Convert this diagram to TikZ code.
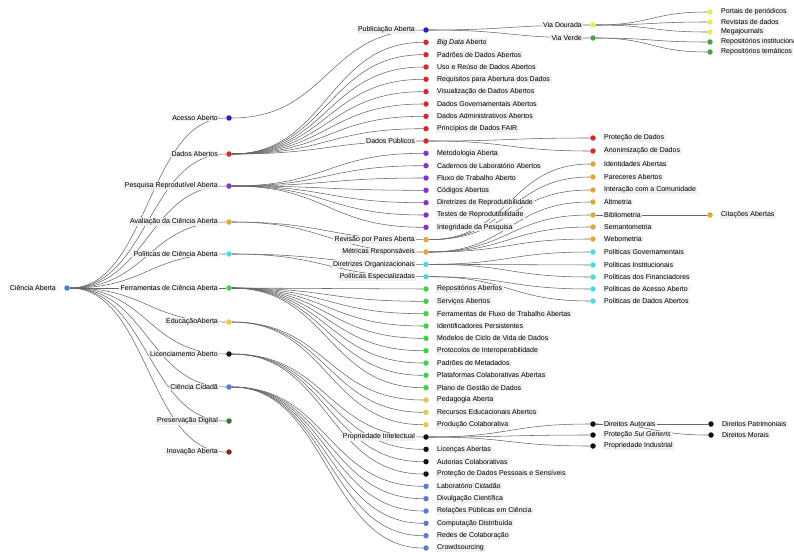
\documentclass[tikz,border=0pt]{standalone}
\usepackage{fontspec}
\setmainfont{Liberation Sans}
\usetikzlibrary{calc}
\pgfdeclarelayer{bg}
\pgfsetlayers{bg,main}
\definecolor{cRoot}{HTML}{4F7FC2}
\definecolor{cAcesso}{HTML}{2424B4}
\definecolor{cDados}{HTML}{D42A2A}
\definecolor{cPesq}{HTML}{8A32C8}
\definecolor{cAval}{HTML}{E3A43A}
\definecolor{cPol}{HTML}{4ED8E4}
\definecolor{cFerr}{HTML}{3CD24A}
\definecolor{cEdu}{HTML}{E6C850}
\definecolor{cLic}{HTML}{111111}
\definecolor{cCid}{HTML}{5B7CC8}
\definecolor{cPres}{HTML}{2E7D32}
\definecolor{cInov}{HTML}{8B2020}
\definecolor{cDour}{HTML}{E8E85A}
\definecolor{cVerde}{HTML}{4CA04C}
\begin{document}
\begin{tikzpicture}[x=1pt, y=-1pt, font=\fontsize{7}{8}\selectfont, label distance=6.5pt,
    dot/.style={circle, fill=#1, inner sep=0pt, minimum size=5.5pt},
    lbl/.style={fill=black!6, inner xsep=1.5pt, inner ysep=0.8pt},
    txtR/.style={label={[lbl]right:#1}},
    txtL/.style={label={[lbl]left:#1}},
    conn/.style={draw=black!60, line width=0.55pt, to path={let \p1=(\tikztostart), \p2=(\tikztotarget) in
        .. controls ({(\x1+\x2)/2},\y1) and ({(\x1+\x2)/2},\y2) .. (\tikztotarget)}}]
    \useasboundingbox (0,0) rectangle (794,551);

    % Root
    \node[dot=cRoot, txtL={Ciência Aberta}] (ciencia) at (67,288) {};

    % Main areas
    \node[dot=cAcesso, txtL={Acesso Aberto}] (acesso) at (229,118) {};
    \node[dot=cDados, txtL={Dados Abertos}] (dados) at (229,154) {};
    \node[dot=cPesq, txtL={Pesquisa Reprodutível Aberta}] (pesquisa) at (229,186) {};
    \node[dot=cAval, txtL={Avaliação da Ciência Aberta}] (avaliacao) at (229,222) {};
    \node[dot=cPol, txtL={Políticas de Ciência Aberta}] (politicas) at (229,254) {};
    \node[dot=cFerr, txtL={Ferramentas de Ciência Aberta}] (ferramentas) at (229,288) {};
    \node[dot=cEdu, txtL={EducaçãoAberta}] (educacao) at (229,322) {};
    \node[dot=cLic, txtL={Licenciamento Aberto}] (licenciamento) at (229,354) {};
    \node[dot=cCid, txtL={Ciência Cidadã}] (cidada) at (229,387) {};
    \node[dot=cPres, txtL={Preservação Digital}] (preservacao) at (229,421) {};
    \node[dot=cInov, txtL={Inovação Aberta}] (inovacao) at (229,452) {};

    % Topics
    \node[dot=cAcesso, txtL={Publicação Aberta}] (publicacao) at (426,30) {};
    \node[dot=cDados, txtR={\emph{Big Data} Aberto}] (bigdata) at (426,42.3) {};
    \node[dot=cDados, txtR={Padrões de Dados Abertos}] (padroes) at (426,54.7) {};
    \node[dot=cDados, txtR={Uso e Reúso de Dados Abertos}] (reuso) at (426,67) {};
    \node[dot=cDados, txtR={Requisitos para Abertura dos Dados}] (requisitos) at (426,79.3) {};
    \node[dot=cDados, txtR={Visualização de Dados Abertos}] (visualizacao) at (426,91.7) {};
    \node[dot=cDados, txtR={Dados Governamentais Abertos}] (governamentais) at (426,104) {};
    \node[dot=cDados, txtR={Dados Administrativos Abertos}] (administrativos) at (426,116.3) {};
    \node[dot=cDados, txtR={Princípios de Dados FAIR}] (fair) at (426,128.7) {};
    \node[dot=cDados, txtL={Dados Públicos}] (publicos) at (426,141) {};
    \node[dot=cPesq, txtR={Metodologia Aberta}] (metodologia) at (426,153.3) {};
    \node[dot=cPesq, txtR={Cadernos de Laboratório Abertos}] (cadernos) at (426,165.7) {};
    \node[dot=cPesq, txtR={Fluxo de Trabalho Aberto}] (fluxo) at (426,178) {};
    \node[dot=cPesq, txtR={Códigos Abertos}] (codigos) at (426,190.3) {};
    \node[dot=cPesq, txtR={Diretrizes de Reprodutibilidade}] (diretrizes) at (426,202.7) {};
    \node[dot=cPesq, txtR={Testes de Reprodutibilidade}] (testes) at (426,215) {};
    \node[dot=cPesq, txtR={Integridade da Pesquisa}] (integridade) at (426,227.3) {};
    \node[dot=cAval, txtL={Revisão por Pares Aberta}] (revisao) at (426,239.7) {};
    \node[dot=cAval, txtL={Métricas Responsáveis}] (metricas) at (426,252) {};
    \node[dot=cPol, txtL={Diretrizes Organizacionais}] (organizacionais) at (426,264.3) {};
    \node[dot=cPol, txtL={Políticas Especializadas}] (especializadas) at (426,276.7) {};
    \node[dot=cFerr, txtR={Repositórios Abertos}] (repositorios) at (426,289) {};
    \node[dot=cFerr, txtR={Serviços Abertos}] (servicos) at (426,301.3) {};
    \node[dot=cFerr, txtR={Ferramentas de Fluxo de Trabalho Abertas}] (ferrfluxo) at (426,313.7) {};
    \node[dot=cFerr, txtR={Identificadores Persistentes}] (identificadores) at (426,326) {};
    \node[dot=cFerr, txtR={Modelos de Ciclo de Vida de Dados}] (modelos) at (426,338.3) {};
    \node[dot=cFerr, txtR={Protocolos de Interoperabilidade}] (protocolos) at (426,350.7) {};
    \node[dot=cFerr, txtR={Padrões de Metadados}] (metadados) at (426,363) {};
    \node[dot=cFerr, txtR={Plataformas Colaborativas Abertas}] (plataformas) at (426,375.3) {};
    \node[dot=cFerr, txtR={Plano de Gestão de Dados}] (plano) at (426,387.7) {};
    \node[dot=cEdu, txtR={Pedagogia Aberta}] (pedagogia) at (426,400) {};
    \node[dot=cEdu, txtR={Recursos Educacionais Abertos}] (recursos) at (426,412.3) {};
    \node[dot=cEdu, txtR={Produção Colaborativa}] (producao) at (426,424.7) {};
    \node[dot=cLic, txtL={Propriedade Intelectual}] (propriedade) at (426,437) {};
    \node[dot=cLic, txtR={Licenças Abertas}] (licencas) at (426,449.3) {};
    \node[dot=cLic, txtR={Autorias Colaborativas}] (autorias) at (426,461.7) {};
    \node[dot=cLic, txtR={Proteção de Dados Pessoais e Sensíveis}] (pessoais) at (426,474) {};
    \node[dot=cCid, txtR={Laboratório Cidadão}] (laboratorio) at (426,486.3) {};
    \node[dot=cCid, txtR={Divulgação Científica}] (divulgacao) at (426,498.7) {};
    \node[dot=cCid, txtR={Relações Públicas em Ciência}] (relacoes) at (426,511) {};
    \node[dot=cCid, txtR={Computação Distribuída}] (computacao) at (426,523.3) {};
    \node[dot=cCid, txtR={Redes de Colaboração}] (redes) at (426,535.7) {};
    \node[dot=cCid, txtR={Crowdsourcing}] (crowdsourcing) at (426,548) {};

    % Subtopics
    \node[dot=cDour, txtL={Via Dourada}] (dourada) at (593,25) {};
    \node[dot=cVerde, txtL={Via Verde}] (verde) at (593,38) {};
    \node[dot=cDados, txtR={Proteção de Dados}] (protecao) at (593,138) {};
    \node[dot=cDados, txtR={Anonimização de Dados}] (anonimizacao) at (593,151) {};
    \node[dot=cAval, txtR={Identidades Abertas}] (identidades) at (593,164) {};
    \node[dot=cAval, txtR={Pareceres Abertos}] (pareceres) at (593,177) {};
    \node[dot=cAval, txtR={Interação com a Comunidade}] (interacao) at (593,190) {};
    \node[dot=cAval, txtR={Altmetria}] (altmetria) at (593,202) {};
    \node[dot=cAval, txtR={Bibliometria}] (bibliometria) at (593,215) {};
    \node[dot=cAval, txtR={Semantometria}] (semantometria) at (593,227) {};
    \node[dot=cAval, txtR={Webometria}] (webometria) at (593,239) {};
    \node[dot=cPol, txtR={Políticas Governamentais}] (polgov) at (593,252) {};
    \node[dot=cPol, txtR={Políticas Institucionais}] (polinst) at (593,265) {};
    \node[dot=cPol, txtR={Políticas dos Financiadores}] (polfin) at (593,277) {};
    \node[dot=cPol, txtR={Políticas de Acesso Aberto}] (polacesso) at (593,289) {};
    \node[dot=cPol, txtR={Políticas de Dados Abertos}] (poldados) at (593,301) {};
    \node[dot=cLic, txtR={Direitos Autorais}] (autorais) at (593,424) {};
    \node[dot=cLic, txtR={Proteção \emph{Sui Generis}}] (suigeneris) at (593,435) {};
    \node[dot=cLic, txtR={Propriedade Industrial}] (industrial) at (593,446) {};

    % Leaves
    \node[dot=cDour, txtR={Portais de periódicos}] (portais) at (710,12) {};
    \node[dot=cDour, txtR={Revistas de dados}] (revistas) at (710,22) {};
    \node[dot=cDour, txtR={Megajournals}] (megajournals) at (710,32) {};
    \node[dot=cVerde, txtR={Repositórios institucionais}] (repinst) at (710,42) {};
    \node[dot=cVerde, txtR={Repositórios temáticos}] (reptem) at (710,52) {};
    \node[dot=cAval, txtR={Citações Abertas}] (citacoes) at (710,215) {};
    \node[dot=cLic, txtR={Direitos Patrimoniais}] (patrimoniais) at (711,424) {};
    \node[dot=cLic, txtR={Direitos Morais}] (morais) at (711,435) {};

    \begin{pgfonlayer}{bg}
    % Root to main areas
    \draw[conn] (ciencia) to (acesso);
    \draw[conn] (ciencia) to (dados);
    \draw[conn] (ciencia) to (pesquisa);
    \draw[conn] (ciencia) to (avaliacao);
    \draw[conn] (ciencia) to (politicas);
    \draw[conn] (ciencia) to (ferramentas);
    \draw[conn] (ciencia) to (educacao);
    \draw[conn] (ciencia) to (licenciamento);
    \draw[conn] (ciencia) to (cidada);
    \draw[conn] (ciencia) to (preservacao);
    \draw[conn] (ciencia) to (inovacao);

    % Main areas to topics
    \draw[conn] (acesso) to (publicacao);
    \draw[conn] (dados) to (bigdata);
    \draw[conn] (dados) to (padroes);
    \draw[conn] (dados) to (reuso);
    \draw[conn] (dados) to (requisitos);
    \draw[conn] (dados) to (visualizacao);
    \draw[conn] (dados) to (governamentais);
    \draw[conn] (dados) to (administrativos);
    \draw[conn] (dados) to (fair);
    \draw[conn] (dados) to (publicos);
    \draw[conn] (pesquisa) to (metodologia);
    \draw[conn] (pesquisa) to (cadernos);
    \draw[conn] (pesquisa) to (fluxo);
    \draw[conn] (pesquisa) to (codigos);
    \draw[conn] (pesquisa) to (diretrizes);
    \draw[conn] (pesquisa) to (testes);
    \draw[conn] (pesquisa) to (integridade);
    \draw[conn] (avaliacao) to (revisao);
    \draw[conn] (avaliacao) to (metricas);
    \draw[conn] (politicas) to (organizacionais);
    \draw[conn] (politicas) to (especializadas);
    \draw[conn] (ferramentas) to (repositorios);
    \draw[conn] (ferramentas) to (servicos);
    \draw[conn] (ferramentas) to (ferrfluxo);
    \draw[conn] (ferramentas) to (identificadores);
    \draw[conn] (ferramentas) to (modelos);
    \draw[conn] (ferramentas) to (protocolos);
    \draw[conn] (ferramentas) to (metadados);
    \draw[conn] (ferramentas) to (plataformas);
    \draw[conn] (ferramentas) to (plano);
    \draw[conn] (educacao) to (pedagogia);
    \draw[conn] (educacao) to (recursos);
    \draw[conn] (educacao) to (producao);
    \draw[conn] (licenciamento) to (propriedade);
    \draw[conn] (licenciamento) to (licencas);
    \draw[conn] (licenciamento) to (autorias);
    \draw[conn] (licenciamento) to (pessoais);
    \draw[conn] (cidada) to (laboratorio);
    \draw[conn] (cidada) to (divulgacao);
    \draw[conn] (cidada) to (relacoes);
    \draw[conn] (cidada) to (computacao);
    \draw[conn] (cidada) to (redes);
    \draw[conn] (cidada) to (crowdsourcing);

    % Topics to subtopics
    \draw[conn] (publicacao) to (dourada);
    \draw[conn] (publicacao) to (verde);
    \draw[conn] (publicos) to (protecao);
    \draw[conn] (publicos) to (anonimizacao);
    \draw[conn] (revisao) to (identidades);
    \draw[conn] (revisao) to (pareceres);
    \draw[conn] (revisao) to (interacao);
    \draw[conn] (metricas) to (altmetria);
    \draw[conn] (metricas) to (bibliometria);
    \draw[conn] (metricas) to (semantometria);
    \draw[conn] (metricas) to (webometria);
    \draw[conn] (organizacionais) to (polgov);
    \draw[conn] (organizacionais) to (polinst);
    \draw[conn] (organizacionais) to (polfin);
    \draw[conn] (especializadas) to (polacesso);
    \draw[conn] (especializadas) to (poldados);
    \draw[conn] (propriedade) to (autorais);
    \draw[conn] (propriedade) to (suigeneris);
    \draw[conn] (propriedade) to (industrial);

    % Subtopics to leaves
    \draw[conn] (dourada) to (portais);
    \draw[conn] (dourada) to (revistas);
    \draw[conn] (dourada) to (megajournals);
    \draw[conn] (verde) to (repinst);
    \draw[conn] (verde) to (reptem);
    \draw[conn] (bibliometria) to (citacoes);
    \draw[conn] (autorais) to (patrimoniais);
    \draw[conn] (autorais) to (morais);
    \end{pgfonlayer}
\end{tikzpicture}
\end{document}
